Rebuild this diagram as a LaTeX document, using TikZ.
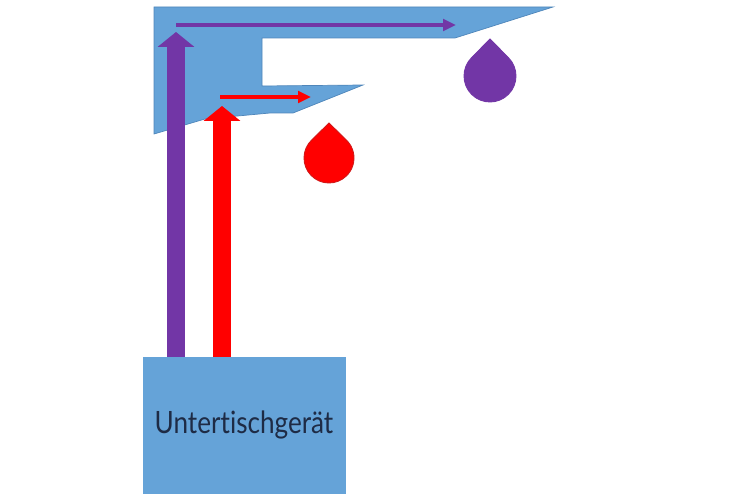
\documentclass[tikz,border=0pt]{standalone}
\usepackage{fontspec}
\newfontfamily\boxfont[FakeStretch=0.85, Ligatures=NoCommon]{Lato}
\usepackage{tikz}
\usetikzlibrary{calc,arrows.meta}
\definecolor{tap}{HTML}{65A3D8}
\definecolor{tapedge}{HTML}{4F86BA}
\definecolor{hot}{HTML}{FF0000}
\definecolor{hotedge}{HTML}{D01818}
\definecolor{cold}{HTML}{7236A6}
\definecolor{ink}{HTML}{1E2B45}
\tikzset{
  riser/.style={line width=10pt, -{Triangle[length=8.5pt,width=20.5pt]}},
  spout/.style={line width=2.6pt, -{Triangle[length=7.4pt,width=6.6pt]}},
  tapbody/.style={draw=tapedge, fill=tap, line width=0.4pt},
  drop/.style={line width=0.5pt},
  unitbox/.style={fill=tap, draw=tap, minimum width=115pt, minimum height=77.4pt,
    inner sep=0pt, text=ink, font=\boxfont\fontsize{17.5}{20}\selectfont}
}
\begin{document}
\begin{tikzpicture}[x=0.02cm, y=-0.02cm]
  \useasboundingbox (0,0) rectangle (750,500);

  % tap body
  \draw[tapbody] (154,7) -- (553,7) -- (455,38) -- (262,38) -- (262,86)
    -- (363,85) -- (293,113) -- (270,113) -- (205,119) -- (154,134) -- cycle;

  \node[unitbox] (geraet) at (244,425) {Untertischgerät};

  \coordinate (coldtop) at (176,32);
  \coordinate (hottop) at (222,106);
  \coordinate (coldstart) at (176,25);
  \coordinate (coldend) at (456,25);
  \coordinate (hotstart) at (220,97);
  \coordinate (hotend) at (311,97);

  % risers
  \draw[riser, draw=cold] (geraet.north -| coldtop) -- (coldtop);
  \draw[riser, draw=hot] (geraet.north -| hottop) -- (hottop);

  % outlets
  \draw[spout, draw=cold] (coldstart) -- (coldend);
  \draw[spout, draw=hot] (hotstart) -- (hotend);

  % drops
  \coordinate (colddrop) at (490,76);
  \coordinate (hotdrop) at (329,158);
  \filldraw[drop, fill=cold, draw=cold] ($(colddrop)+(0,-37)$) -- ($(colddrop)+(225:26)$)
    arc[start angle=225, end angle=-45, radius=26] -- cycle;
  \filldraw[drop, fill=hot, draw=hotedge] ($(hotdrop)+(0,-35)$) -- ($(hotdrop)+(226:25)$)
    arc[start angle=226, end angle=-46, radius=25] -- cycle;
\end{tikzpicture}
\end{document}
